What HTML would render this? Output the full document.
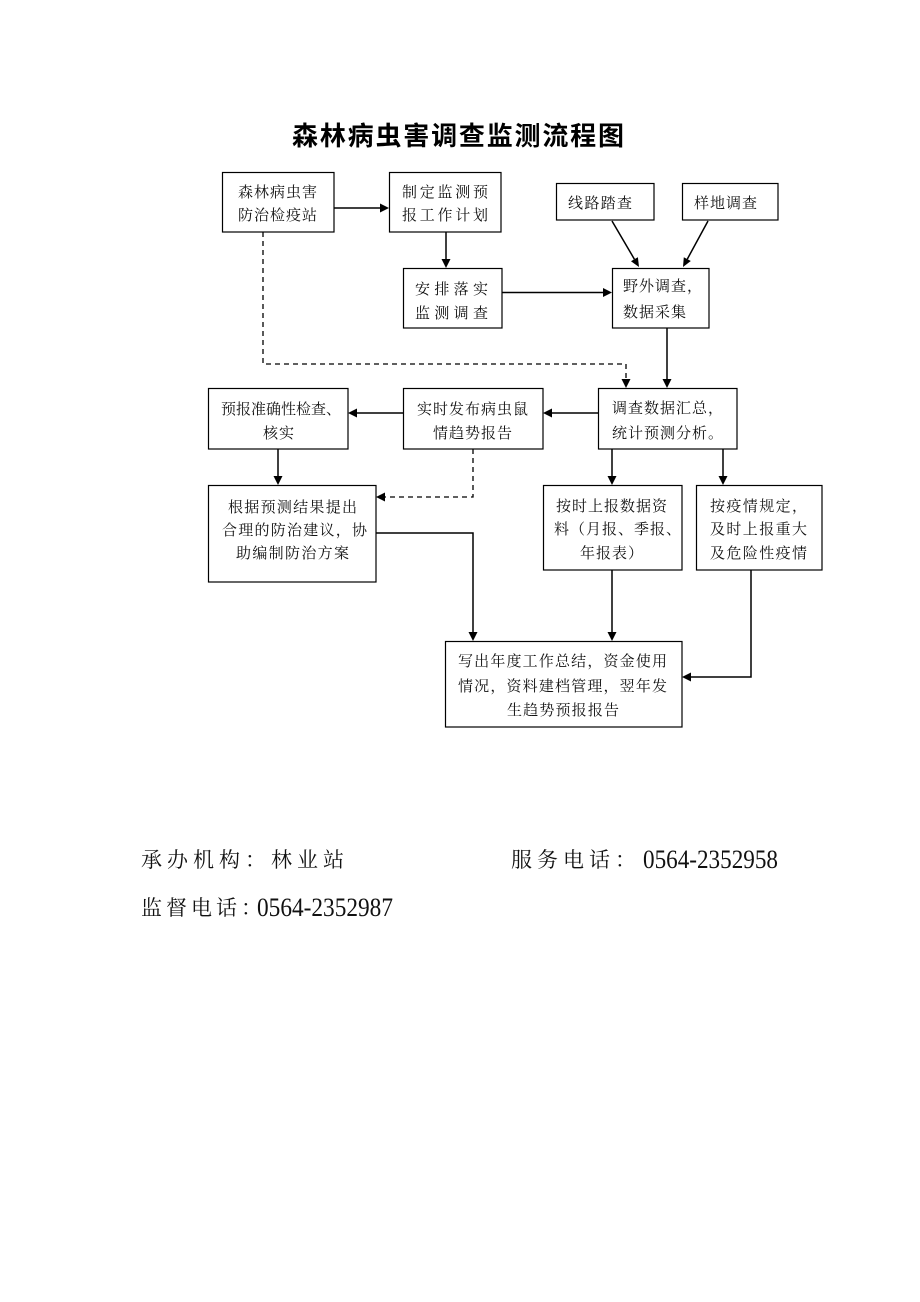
<!DOCTYPE html>
<html>
<head>
<meta charset="utf-8">
<style>
html,body{margin:0;padding:0;background:#fff;}
svg{display:block;}
.t{font-family:"Liberation Serif","Noto Serif CJK SC",serif;font-size:15px;fill:#111;}
.f{font-family:"Liberation Serif","Noto Serif CJK SC",serif;font-size:21px;fill:#111;}
.d{font-family:"Liberation Serif","Noto Serif CJK SC",serif;font-size:26px;fill:#111;}
.ti{font-family:"Liberation Sans","Noto Sans CJK SC",sans-serif;font-size:26px;font-weight:700;fill:#000;}
</style>
</head>
<body>
<svg width="920" height="1302" viewBox="0 0 920 1302" xmlns="http://www.w3.org/2000/svg">
<rect x="0" y="0" width="920" height="1302" fill="#fff"/>

<!-- Title -->
<text class="ti" x="292" y="145" textLength="332" lengthAdjust="spacing">森林病虫害调查监测流程图</text>

<!-- Boxes -->
<g fill="none" stroke="#000" stroke-width="1.2">
<rect x="222.5" y="172.5" width="111.5" height="59.5"/>
<rect x="389.5" y="172.5" width="111.5" height="59.5"/>
<rect x="556.5" y="183.5" width="97.5" height="36.5"/>
<rect x="682.5" y="183.5" width="95.5" height="36.5"/>
<rect x="403.5" y="268.5" width="98.5" height="59.5"/>
<rect x="612.5" y="268.5" width="96.5" height="59.5"/>
<rect x="208.5" y="388.5" width="139.5" height="60.5"/>
<rect x="403.5" y="388.5" width="139.5" height="60.5"/>
<rect x="598.5" y="388.5" width="138.5" height="60.5"/>
<rect x="208.5" y="485.5" width="167.5" height="96.5"/>
<rect x="543.5" y="485.5" width="138.5" height="84.5"/>
<rect x="696.5" y="485.5" width="125.5" height="84.5"/>
<rect x="445.5" y="641.5" width="236.5" height="85.5"/>
</g>

<!-- Solid connectors -->
<g fill="none" stroke="#000" stroke-width="1.5">
<line x1="334" y1="208" x2="381" y2="208"/>
<line x1="446" y1="232" x2="446" y2="260"/>
<line x1="502" y1="292.5" x2="604" y2="292.5"/>
<line x1="612" y1="221" x2="634.4" y2="259.2"/>
<line x1="708" y1="221" x2="687.3" y2="259.1"/>
<line x1="667" y1="328" x2="667" y2="380"/>
<line x1="598" y1="413" x2="551" y2="413"/>
<line x1="403" y1="413" x2="356" y2="413"/>
<line x1="278" y1="449" x2="278" y2="477"/>
<line x1="612" y1="449" x2="612" y2="477"/>
<line x1="723" y1="449" x2="723" y2="477"/>
<polyline points="376,533 473,533 473,633"/>
<line x1="612" y1="570" x2="612" y2="633"/>
<polyline points="751,570 751,677 690,677"/>
</g>

<!-- Dashed connectors -->
<g fill="none" stroke="#000" stroke-width="1.3" stroke-dasharray="5,4">
<polyline points="263,232 263,364 626,364 626,380"/>
<polyline points="473,449 473,497 384,497"/>
</g>

<!-- Arrowheads -->
<g fill="#000" stroke="none">
<polygon points="389,208 380,203.5 380,212.5"/>
<polygon points="446,268 441.5,259 450.5,259"/>
<polygon points="612,292.5 603,288 603,297"/>
<polygon points="639,267 631,261.2 637.9,257.2"/>
<polygon points="683,267 683.8,257.2 690.8,261"/>
<polygon points="667,388 662.5,379 671.5,379"/>
<polygon points="626,388 621.5,379 630.5,379"/>
<polygon points="543,413 552,408.5 552,417.5"/>
<polygon points="348,413 357,408.5 357,417.5"/>
<polygon points="278,485 273.5,476 282.5,476"/>
<polygon points="376,497 385,492.5 385,501.5"/>
<polygon points="612,485 607.5,476 616.5,476"/>
<polygon points="723,485 718.5,476 727.5,476"/>
<polygon points="473,641 468.5,632 477.5,632"/>
<polygon points="612,641 607.5,632 616.5,632"/>
<polygon points="682,677 691,672.5 691,681.5"/>
</g>

<!-- Box texts -->
<text class="t" x="238" y="197" textLength="79" lengthAdjust="spacing">森林病虫害</text>
<text class="t" x="238" y="220" textLength="79" lengthAdjust="spacing">防治检疫站</text>

<text class="t" x="402" y="197" textLength="86" lengthAdjust="spacing">制定监测预</text>
<text class="t" x="402" y="220" textLength="86" lengthAdjust="spacing">报工作计划</text>

<text class="t" x="568" y="208" textLength="64" lengthAdjust="spacing">线路踏查</text>
<text class="t" x="694" y="208" textLength="63" lengthAdjust="spacing">样地调查</text>

<text class="t" x="415" y="294" textLength="73" lengthAdjust="spacing">安排落实</text>
<text class="t" x="415" y="318" textLength="73" lengthAdjust="spacing">监测调查</text>

<text class="t" x="623" y="291" textLength="79" lengthAdjust="spacing">野外调查，</text>
<text class="t" x="623" y="317" textLength="63" lengthAdjust="spacing">数据采集</text>

<text class="t" x="612" y="413" textLength="111" lengthAdjust="spacing">调查数据汇总，</text>
<text class="t" x="612" y="438" textLength="111" lengthAdjust="spacing">统计预测分析。</text>

<text class="t" x="417" y="414" textLength="111" lengthAdjust="spacing">实时发布病虫鼠</text>
<text class="t" x="433" y="438" textLength="79" lengthAdjust="spacing">情趋势报告</text>

<text class="t" x="221" y="414" textLength="120" lengthAdjust="spacing">预报准确性检查、</text>
<text class="t" x="263" y="438" textLength="31" lengthAdjust="spacing">核实</text>

<text class="t" x="228" y="512" textLength="129" lengthAdjust="spacing">根据预测结果提出</text>
<text class="t" x="222" y="535" textLength="145" lengthAdjust="spacing">合理的防治建议，协</text>
<text class="t" x="236" y="558" textLength="113" lengthAdjust="spacing">助编制防治方案</text>

<text class="t" x="556" y="511" textLength="111" lengthAdjust="spacing">按时上报数据资</text>
<text class="t" x="554" y="534" textLength="127" lengthAdjust="spacing">料（月报、季报、</text>
<text class="t" x="580" y="558" textLength="63" lengthAdjust="spacing">年报表）</text>

<text class="t" x="710" y="511" textLength="97" lengthAdjust="spacing">按疫情规定，</text>
<text class="t" x="710" y="534" textLength="97" lengthAdjust="spacing">及时上报重大</text>
<text class="t" x="710" y="558" textLength="97" lengthAdjust="spacing">及危险性疫情</text>

<text class="t" x="458" y="666" textLength="209" lengthAdjust="spacing">写出年度工作总结，资金使用</text>
<text class="t" x="458" y="691" textLength="209" lengthAdjust="spacing">情况，资料建档管理，翌年发</text>
<text class="t" x="507" y="715" textLength="112" lengthAdjust="spacing">生趋势预报报告</text>

<!-- Footer -->
<text class="f" x="141" y="867" textLength="203" lengthAdjust="spacing">承办机构：林业站</text>
<text class="f" x="511" y="867" textLength="125" lengthAdjust="spacing">服务电话：</text>
<text class="d" x="643" y="868" textLength="135" lengthAdjust="spacingAndGlyphs">0564-2352958</text>

<text class="f" x="141" y="915" textLength="121" lengthAdjust="spacing">监督电话：</text>
<text class="d" x="257" y="916" textLength="136" lengthAdjust="spacingAndGlyphs">0564-2352987</text>
</svg>
</body>
</html>
